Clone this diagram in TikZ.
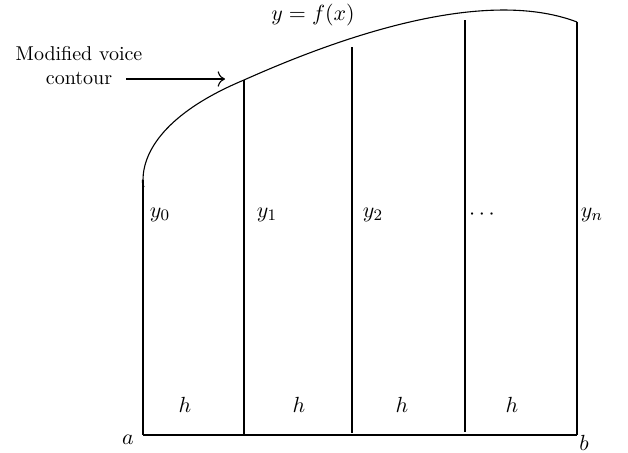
\documentclass[tikz,border=0pt]{standalone}
\usetikzlibrary{arrows.meta}
\begin{document}
\begin{tikzpicture}[x=0.5pt,y=-0.5pt,
  ln/.style={line width=0.55pt},
  lbl/.style={inner sep=0pt,font=\fontsize{10}{12}\selectfont},
  mlbl/.style={inner sep=0pt,font=\fontsize{11}{13}\selectfont}]
\useasboundingbox (0,0) rectangle (628,452);
% key points
\coordinate (c0) at (143,180);
\coordinate (c1) at (244,80);
\coordinate (c2) at (352,47);
\coordinate (c3) at (465,20);
\coordinate (cn) at (577,22);
\coordinate (b0) at (143,435);
\coordinate (b1) at (244,435);
\coordinate (b2) at (352,433);
\coordinate (b3) at (465,432);
\coordinate (bn) at (577,435);
% curve (with the small hook at its start)
\draw[ln] (144,187) .. controls (142,183) and (142,180) .. (c0);
\draw[ln] (c0) .. controls (143,152) and (165,113) .. (c1)
  .. controls (329,42) and (480,-15) .. (cn);
% verticals and base
\draw[ln] (c0) -- (b0);
\draw[ln] (c1) -- (b1);
\draw[ln] (c2) -- (b2);
\draw[ln] (c3) -- (b3);
\draw[ln] (cn) -- (bn);
\draw[ln] (b0) -- (bn);
% labels
\node[mlbl] (fx) at (313,15) {$y = f(x)$};
\node[lbl,align=center] (mvc) at (79,66) {Modified voice\\contour};
\coordinate (as) at (126,79);
\coordinate (ah) at (225,79);
\draw[ln,-{To[scale=1.3]}] (as) -- (ah);
\node[mlbl] (y0) at (160,215) {$y_0$};
\node[mlbl] (y1) at (267,215) {$y_1$};
\node[mlbl] (y2) at (373,215) {$y_2$};
\node[mlbl] (yd) at (482,215) {$\cdots$};
\node[mlbl] (yn) at (592,215) {$y_n$};
\node[mlbl] (h1) at (185,405) {$h$};
\node[mlbl] (h2) at (299,405) {$h$};
\node[mlbl] (h3) at (402,405) {$h$};
\node[mlbl] (h4) at (512,405) {$h$};
\node[mlbl] (a) at (128,440) {$a$};
\node[mlbl] (b) at (584,443) {$b$};
\end{tikzpicture}
\end{document}
